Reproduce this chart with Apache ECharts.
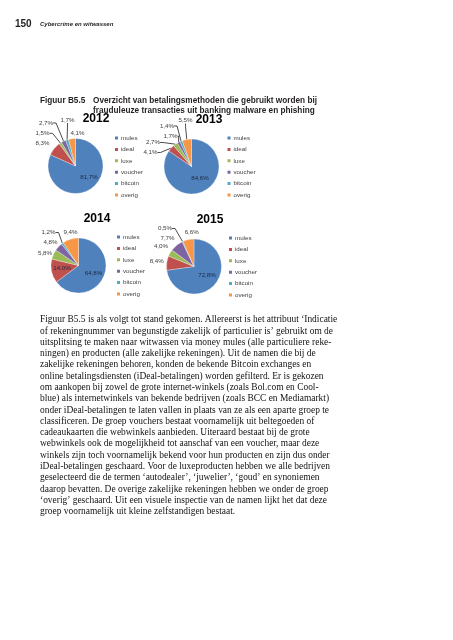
<!DOCTYPE html>
<html><head><meta charset="utf-8">
<script src="https://cdn.jsdelivr.net/npm/echarts@6/dist/echarts.min.js"></script>
<style>html,body{margin:0;padding:0;background:#fff}#c{width:453px;height:640px}</style>
</head><body><div id="c"></div>
<script>
// ---------- data ----------
const categories = ['mules', 'ideal', 'luxe', 'voucher', 'bitcoin', 'overig'];
const years = ['2012', '2013', '2014', '2015'];
const share2012 = [81.7, 8.3, 1.5, 2.7, 1.7, 4.1];
const share2013 = [84.6, 4.1, 2.7, 1.7, 1.4, 5.5];
const share2014 = [64.8, 14.0, 5.8, 4.8, 1.2, 9.4];
const share2015 = [72.8, 8.4, 4.0, 7.7, 0.5, 6.6];
const pageNumber = '150';
const runningHead = 'Cybercrime en witwassen';
const figureLabel = 'Figuur B5.5';
const figureTitle = [
  'Overzicht van betalingsmethoden die gebruikt worden bij',
  'frauduleuze transacties uit banking malware en phishing'
];
const bodyLines = [
  'Figuur B5.5 is als volgt tot stand gekomen. Allereerst is het attribuut \u2018Indicatie',
  'of rekeningnummer van begunstigde zakelijk of particulier is\u2019 gebruikt om de',
  'uitsplitsing te maken naar witwassen via money mules (alle particuliere reke-',
  'ningen) en producten (alle zakelijke rekeningen). Uit de namen die bij de',
  'zakelijke rekeningen behoren, konden de bekende Bitcoin exchanges en',
  'online betalingsdiensten (iDeal-betalingen) worden gefilterd. Er is gekozen',
  'om aankopen bij zowel de grote internet-winkels (zoals Bol.com en Cool-',
  'blue) als internetwinkels van bekende bedrijven (zoals BCC en Mediamarkt)',
  'onder iDeal-betalingen te laten vallen in plaats van ze als een aparte groep te',
  'classificeren. De groep vouchers bestaat voornamelijk uit beltegoeden of',
  'cadeaukaarten die webwinkels aanbieden. Uiteraard bestaat bij de grote',
  'webwinkels ook de mogelijkheid tot aanschaf van een voucher, maar deze',
  'winkels zijn toch voornamelijk bekend voor hun producten en zijn dus onder',
  'iDeal-betalingen geschaard. Voor de luxeproducten hebben we alle bedrijven',
  'geselecteerd die de termen \u2018autodealer\u2019, \u2018juwelier\u2019, \u2018goud\u2019 en synoniemen',
  'daarop bevatten. De overige zakelijke rekeningen hebben we onder de groep',
  '\u2018overig\u2019 geschaard. Uit een visuele inspectie van de namen lijkt het dat deze',
  'groep voornamelijk uit kleine zelfstandigen bestaat.'
];

// ---------- style / layout ----------
const shares = [share2012, share2013, share2014, share2015];
const colors = ['#4F81BD', '#C0504D', '#9BBB59', '#8064A2', '#4BACC6', '#F79646'];
// label offsets (relative to pie centre) for: mules, ideal, luxe, voucher, bitcoin, overig
const layout = [
  { center: [75.5, 166], title: [96, 118.5], legend: [113, 134.5], inside: [0], lines: [2, 3, 4],
    off: [[13.5, 11], [-33, -22.7], [-33, -32.7], [-29.5, -43], [-8, -46], [2, -33]] },
  { center: [191.5, 166.5], title: [209, 119.5], legend: [225.5, 134.5], inside: [0], lines: [1, 2, 3, 4, 5],
    off: [[8.5, 12], [-41, -14], [-38.5, -24], [-21, -30.5], [-24.5, -40.5], [-6, -46]] },
  { center: [78.5, 265.5], title: [97, 219], legend: [115, 233.5], inside: [0, 1], lines: [4],
    off: [[15, 7.5], [-16.5, 2.5], [-33.5, -12], [-28, -23], [-30, -33], [-8, -33]] },
  { center: [194, 266.5], title: [210, 219.5], legend: [227, 234.5], inside: [0], lines: [4],
    off: [[13, 8.5], [-37.3, -5], [-33, -20], [-26.5, -28], [-29, -38], [-2.3, -34]] }
];
const R = 27.5;
const sansFont = '"Liberation Sans", Arial, sans-serif';
const serifFont = '"Liberation Serif", "Times New Roman", serif';

function fmt(v) { return v.toFixed(1).replace('.', ',') + '%'; }

const ctx = document.createElement('canvas').getContext('2d');
function measure(text, font) { ctx.font = font; return ctx.measureText(text).width; }

const series = shares.map((vals, si) => ({
  type: 'pie',
  name: years[si],
  center: layout[si].center,
  radius: [0, R],
  startAngle: 90,
  clockwise: true,
  silent: true,
  avoidLabelOverlap: false,
  itemStyle: { borderColor: '#ffffff', borderWidth: 0.3 },
  label: {
    show: true, fontSize: 6.2, fontFamily: sansFont, color: '#404040',
    formatter: p => fmt(p.value), padding: 0
  },
  labelLine: { show: true, length: 4, length2: 3, lineStyle: { color: '#000', width: 0.7 } },
  labelLayout: function (p) {
    const l = layout[p.seriesIndex];
    const o = l.off[p.dataIndex];
    return { x: l.center[0] + o[0], y: l.center[1] + o[1], align: 'center', verticalAlign: 'middle' };
  },
  data: vals.map((v, i) => {
    const inside = layout[si].inside.includes(i);
    return {
      name: categories[i], value: v,
      label: inside ? { position: 'inside', color: '#1c2840' } : { position: 'outside' },
      labelLine: { show: !inside && layout[si].lines.includes(i) }
    };
  })
}));

const legends = layout.map(l => ({
  orient: 'vertical', left: l.legend[0], top: l.legend[1], padding: 0,
  icon: 'rect', itemWidth: 5, itemHeight: 5, itemGap: 4.4,
  selectedMode: false,
  textStyle: { fontSize: 6.2, lineHeight: 7, color: '#404040', fontFamily: sansFont, padding: [0, 0, 0, -3] },
  data: categories
}));

const graphics = [];
const mid = { textVerticalAlign: 'middle', verticalAlign: 'middle' };
// running head
graphics.push({ type: 'text', x: 15, y: 24, style: Object.assign({ text: pageNumber, font: 'bold 10px ' + sansFont, fill: '#231f20' }, mid) });
graphics.push({ type: 'text', x: 40, y: 24, style: Object.assign({ text: runningHead, font: 'italic bold 6px ' + sansFont, fill: '#231f20' }, mid) });
// figure caption (condensed look via horizontal scaling)
const capFont = 'bold 9.5px ' + sansFont;
const capScale = 224 / measure(figureTitle[0], capFont);
graphics.push({ type: 'text', x: 40, y: 100, scaleX: capScale, style: Object.assign({ text: figureLabel, font: capFont, fill: '#231f20' }, mid) });
figureTitle.forEach((t, i) => graphics.push({ type: 'text', x: 93, y: 100 + i * 10, scaleX: capScale, style: Object.assign({ text: t, font: capFont, fill: '#231f20' }, mid) }));
// pie titles
layout.forEach((l, i) => graphics.push({ type: 'text', x: l.title[0], y: l.title[1], style: Object.assign({ text: years[i], font: 'bold 12px ' + sansFont, fill: '#000', textAlign: 'center', align: 'center' }, mid) }));
// body text
const bodyFont = '10.5px ' + serifFont;
const bodyScale = 293 / measure(bodyLines[1], bodyFont);
bodyLines.forEach((t, i) => graphics.push({ type: 'text', x: 40, y: 319.5 + i * 11.29, scaleX: bodyScale, style: Object.assign({ text: t, font: bodyFont, fill: '#111111' }, mid) }));

const chart = echarts.init(document.getElementById('c'), null, { renderer: 'canvas' });
chart.setOption({
  backgroundColor: '#ffffff',
  animation: false,
  color: colors,
  legend: legends,
  series: series,
  graphic: graphics
});
</script></body></html>
